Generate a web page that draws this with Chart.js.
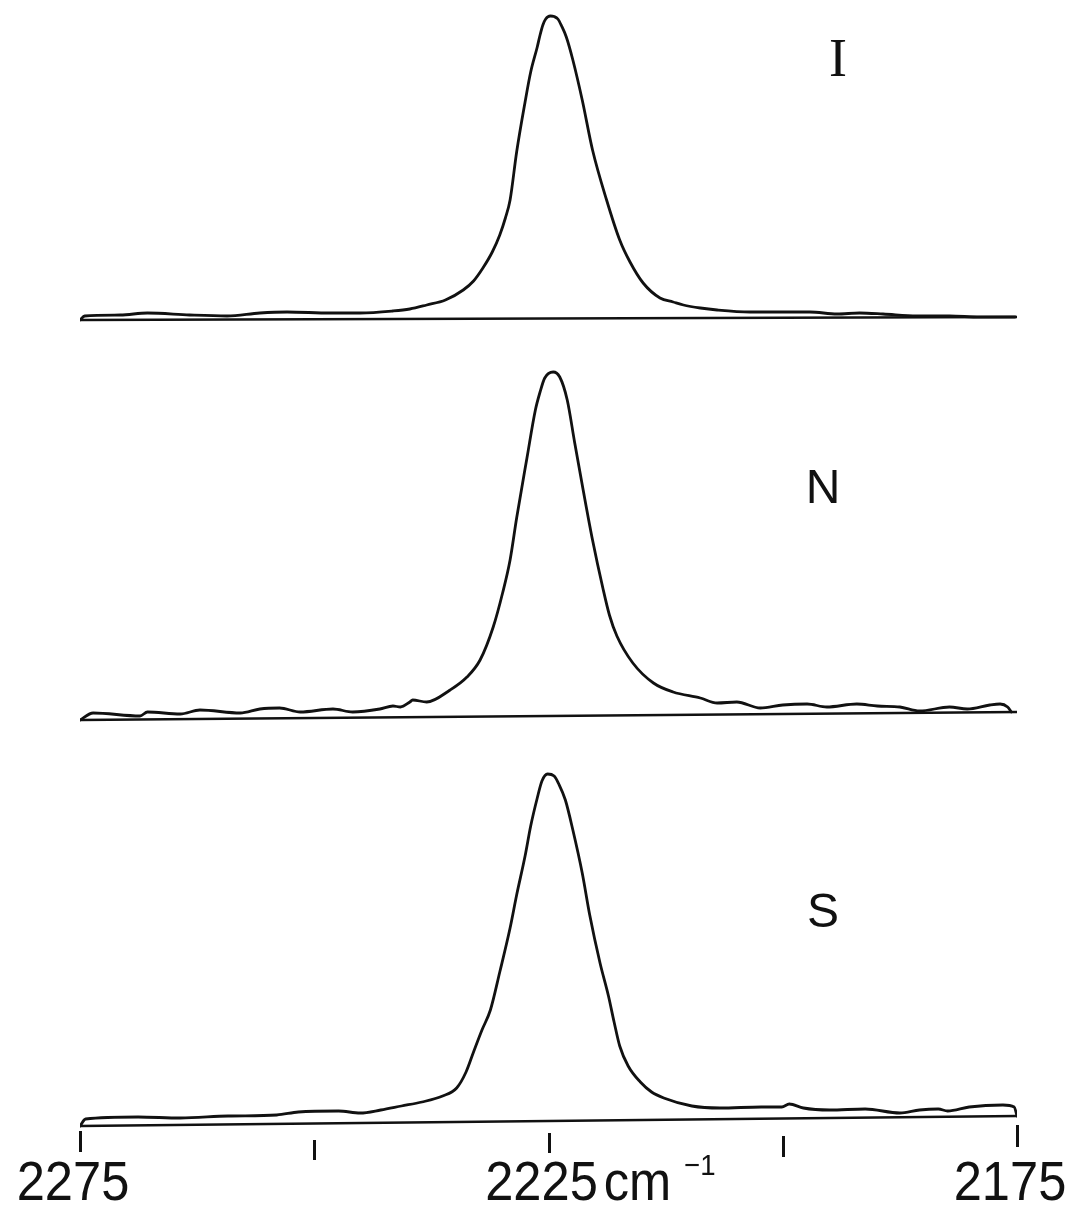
<!DOCTYPE html>
<html>
<head>
<meta charset="utf-8">
<script src="https://cdn.jsdelivr.net/npm/chart.js@4/dist/chart.umd.min.js"></script>
<style>
  html, body { margin: 0; padding: 0; background: #ffffff; }
  #wrap { width: 1085px; height: 1205px; }
</style>
</head>
<body>
<div id="wrap"><canvas id="spectra" width="1085" height="1205"></canvas></div>
<script>
// Wavenumber axis (cm^-1), drawn high -> low
const axisStart = 2275;
const axisEnd = 2175;
const tickValues = [2275, 2250, 2225, 2200, 2175];
const tickLabels = ['2275', '', '2225', '', '2175'];
const axisUnit = 'cm';
const axisUnitPower = '\u22121';

// Panel names, top to bottom
const panelNames = ['I', 'N', 'S'];

// Spectrum I
const wavenumberI = [2275, 2274.5, 2270.7, 2267.8, 2263.3, 2259.3, 2255.8, 2252.9, 2248.3, 2245.1, 2241.6, 2239.8, 2238.0, 2236.0, 2234.1, 2233.0, 2232.0, 2231.0, 2230.2, 2229.6, 2229.1, 2228.4, 2227.5, 2226.9, 2226.2, 2225.9, 2225.6, 2225.3, 2224.8, 2224.4, 2224.0, 2223.6, 2223.1, 2222.4, 2221.4, 2220.3, 2218.8, 2217.4, 2216.3, 2214.9, 2213.1, 2211.7, 2210.6, 2208.8, 2207.0, 2203.5, 2200.3, 2197.1, 2194.2, 2191.8, 2189.3, 2185.7, 2182.2, 2179.0, 2176.5, 2175.2];
const intensityI = [0, 0.04, 0.05, 0.07, 0.05, 0.04, 0.07, 0.08, 0.07, 0.07, 0.09, 0.11, 0.15, 0.20, 0.30, 0.39, 0.52, 0.68, 0.85, 1.02, 1.20, 1.68, 2.18, 2.48, 2.73, 2.85, 2.95, 3.01, 3.04, 3.035, 3.01, 2.94, 2.83, 2.60, 2.20, 1.70, 1.20, 0.80, 0.58, 0.37, 0.22, 0.18, 0.15, 0.12, 0.10, 0.08, 0.08, 0.08, 0.06, 0.07, 0.06, 0.04, 0.04, 0.03, 0.03, 0.03];
const baselineI = [0, 0.03];

// Spectrum N
const wavenumberN = [2275, 2273.6, 2268.6, 2267.8, 2264.3, 2262.2, 2257.9, 2255.8, 2253.7, 2251.5, 2248.0, 2245.9, 2243.0, 2241.6, 2240.8, 2239.8, 2239.5, 2238.0, 2235.5, 2233.7, 2232.3, 2230.9, 2229.9, 2229.1, 2228.4, 2227.3, 2226.4, 2225.9, 2225.4, 2224.5, 2223.8, 2223.0, 2222.2, 2221.3, 2220.3, 2219.2, 2218.5, 2217.7, 2216.0, 2213.8, 2211.7, 2208.8, 2207.0, 2204.9, 2202.4, 2200.0, 2197.4, 2195.3, 2192.1, 2189.9, 2187.5, 2185.4, 2182.2, 2180.3, 2177.9, 2176.8, 2176.0, 2175.6];
const intensityN = [0, 0.07, 0.04, 0.08, 0.06, 0.10, 0.07, 0.11, 0.12, 0.08, 0.11, 0.08, 0.11, 0.14, 0.13, 0.18, 0.20, 0.18, 0.30, 0.43, 0.60, 0.93, 1.27, 1.60, 2.02, 2.62, 3.10, 3.28, 3.42, 3.48, 3.43, 3.20, 2.77, 2.30, 1.80, 1.32, 1.05, 0.84, 0.57, 0.37, 0.28, 0.22, 0.17, 0.18, 0.12, 0.15, 0.16, 0.13, 0.16, 0.14, 0.13, 0.09, 0.13, 0.11, 0.15, 0.16, 0.13, 0.08];
const baselineN = [0, 0.08];

// Spectrum S
const wavenumberS = [2275, 2274.4, 2268.8, 2264.3, 2259.2, 2254.0, 2251.7, 2247.4, 2245.1, 2242.9, 2240.7, 2238.5, 2236.3, 2234.8, 2233.8, 2233.0, 2232.1, 2231.2, 2230.2, 2229.1, 2228.4, 2227.5, 2226.9, 2226.2, 2225.7, 2225.1, 2224.4, 2223.9, 2223.2, 2222.4, 2221.4, 2220.6, 2219.5, 2218.6, 2218.0, 2217.4, 2216.5, 2215.2, 2214.0, 2212.7, 2209.7, 2206.7, 2202.3, 2200.1, 2199.3, 2197.8, 2195.0, 2191.2, 2187.5, 2185.4, 2183.4, 2182.4, 2180.1, 2176.5, 2175.3, 2175.0];
const intensityS = [0, 0.07, 0.09, 0.08, 0.10, 0.11, 0.14, 0.15, 0.13, 0.16, 0.20, 0.24, 0.30, 0.38, 0.54, 0.74, 0.96, 1.16, 1.54, 1.98, 2.31, 2.70, 3.00, 3.28, 3.45, 3.52, 3.50, 3.42, 3.26, 2.96, 2.53, 2.11, 1.63, 1.30, 1.04, 0.80, 0.60, 0.44, 0.34, 0.28, 0.20, 0.18, 0.19, 0.19, 0.22, 0.18, 0.16, 0.17, 0.13, 0.16, 0.17, 0.15, 0.19, 0.21, 0.19, 0.10];
const baselineS = [0, 0.10];

// Vertical stacking of the three traces (offset of each panel's baseline)
const panelOffset = [8.85, 4.85, 0.79];

const panels = [
  { x: wavenumberI, y: intensityI, base: baselineI },
  { x: wavenumberN, y: intensityN, base: baselineN },
  { x: wavenumberS, y: intensityS, base: baselineS }
];

const INK = '#111111';
const datasets = [];
panels.forEach((p, i) => {
  const off = panelOffset[i];
  datasets.push({
    label: panelNames[i],
    data: p.x.map((w, k) => ({ x: w, y: p.y[k] + off })),
    borderColor: INK,
    borderWidth: 2.8,
    pointRadius: 0,
    cubicInterpolationMode: 'monotone',
    fill: false
  });
  datasets.push({
    label: panelNames[i] + ' baseline',
    data: [{ x: axisStart, y: p.base[0] + off }, { x: axisEnd, y: p.base[1] + off }],
    borderColor: INK,
    borderWidth: 2.4,
    pointRadius: 0,
    tension: 0,
    fill: false
  });
});

// Tick marks, tick labels and panel letters
const annotate = {
  id: 'annotate',
  afterDraw(chart) {
    const ctx = chart.ctx;
    const xs = chart.scales.x;
    ctx.save();
    ctx.strokeStyle = INK;
    ctx.fillStyle = INK;
    ctx.lineWidth = 3;
    ctx.lineCap = 'butt';
    const tickSpan = [[1131, 1152], [1140, 1160], [1133, 1153], [1136, 1157], [1125, 1147]];
    tickValues.forEach((v, i) => {
      const px = Math.round(xs.getPixelForValue(v)) + 0.5;
      ctx.beginPath();
      ctx.moveTo(px, tickSpan[i][0]);
      ctx.lineTo(px, tickSpan[i][1]);
      ctx.stroke();
    });

    // numeric labels
    const labelY = 1200;
    ctx.textBaseline = 'alphabetic';
    tickValues.forEach((v, i) => {
      const txt = tickLabels[i];
      if (!txt) return;
      const px = xs.getPixelForValue(v);
      ctx.save();
      ctx.font = '55px "Liberation Sans", Arial, sans-serif';
      const w = ctx.measureText(txt).width;
      const sx = 0.92;
      const cx = px - 7;
      ctx.translate(cx, labelY);
      ctx.scale(sx, 1);
      ctx.textAlign = 'center';
      ctx.fillText(txt, 0, 0);
      ctx.restore();
      if (v === 2225) {
        const right = cx + (w * sx) / 2;
        ctx.save();
        ctx.font = '55px "Liberation Sans", Arial, sans-serif';
        ctx.translate(right + 6, labelY);
        ctx.scale(0.92, 1);
        ctx.textAlign = 'left';
        ctx.fillText(axisUnit, 0, 0);
        const cw = ctx.measureText(axisUnit).width;
        ctx.font = '30px "Liberation Sans", Arial, sans-serif';
        ctx.fillText(axisUnitPower, cw + 14, -25);
        ctx.restore();
      }
    });

    // panel letters
    ctx.textAlign = 'center';
    ctx.textBaseline = 'middle';
    ctx.font = '54px "Liberation Serif", "Times New Roman", serif';
    ctx.fillText(panelNames[0], 838, 62);
    ctx.font = '48px "Liberation Sans", Arial, sans-serif';
    ctx.fillText(panelNames[1], 823, 490);
    ctx.fillText(panelNames[2], 823, 914);
    ctx.restore();
  }
};

new Chart(document.getElementById('spectra'), {
  type: 'line',
  data: { datasets },
  options: {
    responsive: false,
    devicePixelRatio: 1,
    animation: false,
    layout: { padding: { left: 80, right: 68, top: 0, bottom: 0 } },
    plugins: { legend: { display: false }, tooltip: { enabled: false }, title: { display: false } },
    elements: { line: { borderCapStyle: 'round', borderJoinStyle: 'round' } },
    scales: {
      x: { type: 'linear', min: axisEnd, max: axisStart, reverse: true, display: false },
      y: { type: 'linear', min: 0, max: 12.05, display: false }
    }
  },
  plugins: [annotate]
});
</script>
</body>
</html>
